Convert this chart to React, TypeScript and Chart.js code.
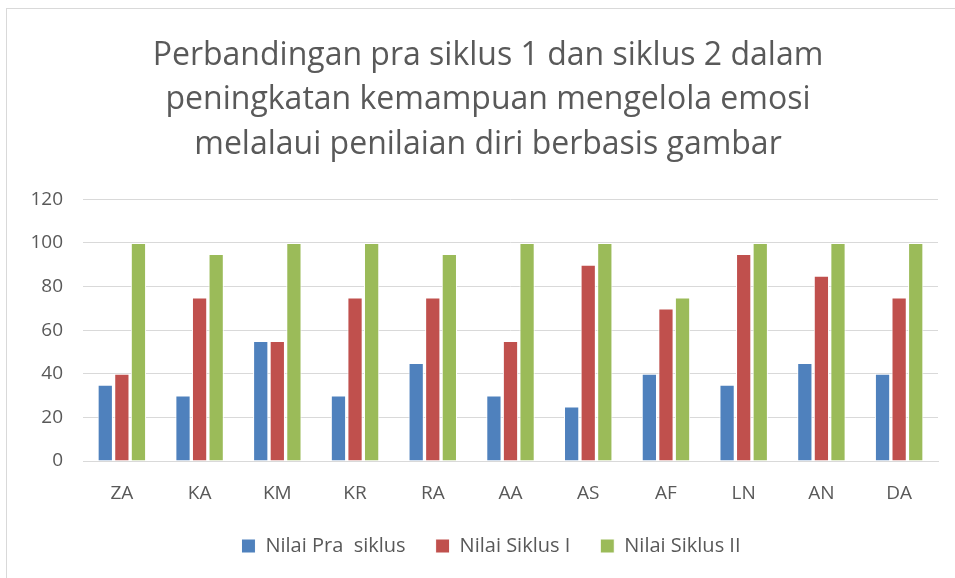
import React, { useEffect, useRef } from "react";
import { Chart, registerables } from "chart.js";

Chart.register(...registerables);

const categories = ["ZA", "KA", "KM", "KR", "RA", "AA", "AS", "AF", "LN", "AN", "DA"];
const praSiklus = [35, 30, 55, 30, 45, 30, 25, 40, 35, 45, 40];
const siklus1 = [40, 75, 55, 75, 75, 55, 90, 70, 95, 85, 75];
const siklus2 = [100, 95, 100, 100, 95, 100, 100, 75, 100, 100, 100];
const seriesNames = ["Nilai Pra  siklus", "Nilai Siklus I", "Nilai Siklus II"];
const titleLines = [
  "Perbandingan pra siklus 1 dan siklus 2 dalam",
  "peningkatan kemampuan mengelola emosi",
  "melalaui penilaian diri berbasis gambar",
];

const FONT = "'Open Sans', 'Noto Sans', sans-serif";

// Shift title & legend boxes horizontally so they are centred like the original (centred on the outer frame)
const shiftBoxes = {
  id: "shiftBoxes",
  afterLayout(chart: any) {
    const t = chart.titleBlock;
    if (t) {
      t.left += 19;
      t.right += 19;
    }
    const l = chart.legend;
    if (l) {
      l.left += 22;
      l.right += 22;
    }
  },
};

export default function App() {
  const ref = useRef<HTMLCanvasElement | null>(null);
  useEffect(() => {
    if (!ref.current) return;
    const chart = new Chart(ref.current, {
      type: "bar",
      data: {
        labels: categories,
        datasets: [
          { label: seriesNames[0], data: praSiklus, backgroundColor: "#4F81BD" },
          { label: seriesNames[1], data: siklus1, backgroundColor: "#C0504D" },
          { label: seriesNames[2], data: siklus2, backgroundColor: "#9BBB59" },
        ].map((d) => ({
          ...d,
          borderColor: "#ffffff",
          borderWidth: 1,
          barPercentage: 0.92,
          categoryPercentage: 0.64,
        })),
      },
      plugins: [shiftBoxes],
      options: {
        animation: false,
        responsive: false,
        maintainAspectRatio: false,
        layout: { padding: { left: 0, right: 17, top: 33, bottom: 12 } },
        plugins: {
          title: {
            display: true,
            text: titleLines,
            color: "#595959",
            font: { family: FONT, size: 32, weight: "normal", lineHeight: 1.4 },
            padding: { top: 0, bottom: 32 },
          },
          legend: {
            position: "bottom",
            labels: {
              color: "#595959",
              font: { family: FONT, size: 20 },
              boxWidth: 14,
              boxHeight: 14,
              padding: 30,
            },
          },
          tooltip: { enabled: false },
        },
        scales: {
          x: {
            grid: { display: false },
            border: { color: "#D9D9D9", width: 1 },
            ticks: { color: "#595959", font: { family: FONT, size: 19 }, padding: 13 },
            afterFit: (s: any) => {
              s.height = 45;
            },
          },
          y: {
            min: 0,
            max: 120,
            ticks: { stepSize: 20, color: "#595959", font: { family: FONT, size: 19 }, padding: 20 },
            grid: { color: "#D9D9D9", lineWidth: 1, drawTicks: false },
            border: { display: false },
            afterFit: (s: any) => {
              s.width = 83;
            },
          },
        },
      },
    });
    return () => chart.destroy();
  }, []);
  return (
    <div style={{ position: "fixed", left: 0, top: 0, width: 955, height: 578, background: "#fff" }}>
      <div
        style={{
          position: "absolute",
          left: 6,
          top: 8,
          width: 960,
          height: 580,
          border: "1px solid #D9D9D9",
          boxSizing: "border-box",
        }}
      />
      <canvas ref={ref} width={955} height={578} style={{ position: "absolute", left: 0, top: 0 }} />
    </div>
  );
}
